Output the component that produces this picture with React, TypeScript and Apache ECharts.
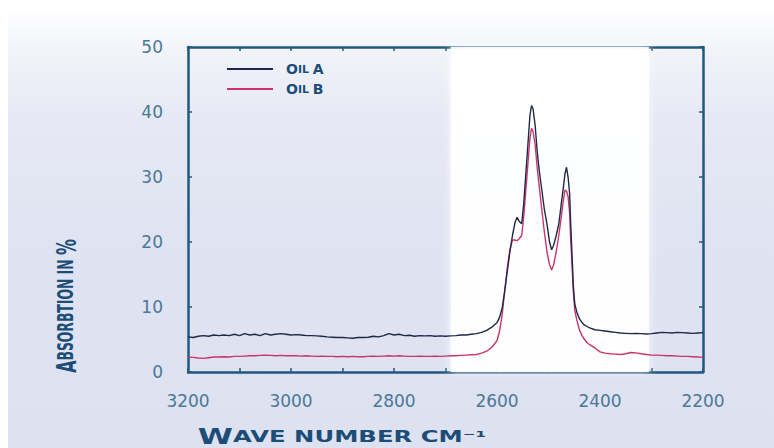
import React, { useEffect, useRef } from 'react';
import * as echarts from 'echarts';

// Wave numbers (cm-1), shared by both spectra
const wavenumbers = [
  3200, 3190, 3180, 3170, 3160, 3150, 3140, 3130, 3120, 3110,
  3100, 3090, 3080, 3070, 3060, 3050, 3040, 3030, 3020, 3010,
  3000, 2990, 2980, 2970, 2960, 2950, 2940, 2930, 2920, 2910,
  2900, 2890, 2880, 2870, 2860, 2850, 2840, 2830, 2820, 2810,
  2800, 2790, 2780, 2770, 2760, 2750, 2740, 2730, 2720, 2710,
  2700, 2690, 2680, 2670, 2660, 2650, 2640,
  2630, 2620, 2610, 2600, 2595, 2590, 2585, 2580, 2575, 2570,
  2565, 2561, 2557, 2552, 2548, 2544, 2540, 2536, 2533, 2530,
  2526, 2522, 2518, 2513, 2508, 2503, 2498, 2494, 2490, 2485,
  2480, 2475, 2471, 2468, 2465, 2462, 2459, 2457, 2454, 2452,
  2449, 2445, 2440, 2435, 2430, 2425, 2420, 2410,
  2400, 2390, 2380, 2370, 2360, 2350, 2340, 2330, 2320, 2310,
  2300, 2290, 2280, 2270, 2260, 2250, 2240, 2230, 2220, 2210, 2200,
];

// Absorption in % – Oil A
const oilA = [
  5.4, 5.3, 5.5, 5.6, 5.5, 5.7, 5.6, 5.7, 5.6, 5.8,
  5.6, 5.9, 5.7, 5.8, 5.6, 5.9, 5.7, 5.8, 5.9, 5.8,
  5.7, 5.75, 5.7, 5.6, 5.6, 5.55, 5.5, 5.4, 5.35, 5.3,
  5.3, 5.25, 5.2, 5.3, 5.3, 5.35, 5.5, 5.4, 5.6, 5.9,
  5.7, 5.8, 5.6, 5.65, 5.5, 5.6, 5.55, 5.6, 5.5, 5.55,
  5.5, 5.55, 5.6, 5.7, 5.7, 5.8, 5.9,
  6.1, 6.4, 6.9, 7.6, 8.4, 9.8, 12.5, 15.5, 18.5, 21.0,
  23.0, 23.8, 23.2, 22.8, 26.0, 30.5, 35.0, 39.5, 41.0, 40.5,
  38.0, 34.0, 31.0, 28.0, 25.0, 22.8, 20.0, 18.8, 19.5, 21.0,
  22.8, 26.0, 28.5, 30.5, 31.5, 30.0, 27.5, 23.0, 17.5, 13.5,
  10.5, 9.2, 8.2, 7.6, 7.2, 7.0, 6.8, 6.5,
  6.4, 6.3, 6.2, 6.1, 6.0, 5.95, 5.9, 5.95, 5.9, 5.85,
  5.9, 6.0, 6.1, 6.05, 6.0, 6.1, 6.05, 6.0, 5.95, 6.0, 6.05,
];

// Absorption in % – Oil B
const oilB = [
  2.3, 2.25, 2.15, 2.1, 2.2, 2.3, 2.3, 2.35, 2.3, 2.4,
  2.4, 2.45, 2.5, 2.5, 2.55, 2.6, 2.55, 2.5, 2.55, 2.5,
  2.5, 2.5, 2.45, 2.5, 2.45, 2.4, 2.45, 2.4, 2.4, 2.35,
  2.4, 2.35, 2.4, 2.35, 2.35, 2.4, 2.45, 2.4, 2.45, 2.5,
  2.45, 2.5, 2.45, 2.4, 2.4, 2.45, 2.4, 2.4, 2.45, 2.4,
  2.45, 2.5, 2.5, 2.55, 2.6, 2.65, 2.7,
  2.9, 3.2, 3.8, 4.8, 6.3, 8.8, 12.5, 16.0, 18.8, 20.3,
  20.3, 20.2, 20.5, 21.0, 24.0, 28.0, 32.0, 36.0, 37.5, 37.0,
  35.0, 31.5, 28.5, 25.0, 21.5, 18.5, 16.5, 15.7, 16.5, 18.5,
  21.0, 24.0, 26.5, 28.0, 27.8, 27.0, 24.5, 20.5, 16.0, 12.5,
  9.5, 8.0, 6.5, 5.6, 5.0, 4.5, 4.2, 3.7,
  3.1, 2.9, 2.8, 2.75, 2.7, 2.8, 3.0, 2.95, 2.8, 2.7,
  2.6, 2.6, 2.55, 2.5, 2.5, 2.45, 2.4, 2.4, 2.35, 2.3, 2.25,
];

const seriesNames = ['Oil A', 'Oil B'];
const seriesColors = ['#1e2848', '#c9346c'];
const xLabelStep = 200;
const highlightBand = [2690, 2305];

const AXIS = '#22587e';
const LABEL = '#4a7898';
const TITLE = '#1b4d78';

function smallCaps(name: string): string {
  return name
    .split(' ')
    .map((w) => {
      const up = w.toUpperCase();
      if (up.length === 1) return `{b|${up}}`;
      return `{b|${up[0]}}{s|${up.slice(1)}}`;
    })
    .join('{s| }');
}

export default function App() {
  const ref = useRef<HTMLDivElement>(null);

  useEffect(() => {
    const chart = echarts.init(ref.current!, null, { renderer: 'svg' });

    const xCommon = {
      type: 'value' as const,
      min: 2200,
      max: 3200,
      interval: 100,
      inverse: true,
      splitLine: { show: false },
      axisLine: { show: true, onZero: false, lineStyle: { color: AXIS, width: 2.5 } },
      axisTick: { show: true, inside: true, length: 4, lineStyle: { color: AXIS, width: 1.5 } },
    };
    const yCommon = {
      type: 'value' as const,
      min: 0,
      max: 50,
      interval: 10,
      splitLine: { show: false },
      axisLine: { show: true, onZero: false, lineStyle: { color: AXIS, width: 2.5 } },
      axisTick: { show: true, inside: true, length: 4, lineStyle: { color: AXIS, width: 1.5 } },
    };

    const series: any[] = [oilA, oilB].map((vals, i) => ({
      name: seriesNames[i],
      type: 'line',
      xAxisIndex: 0,
      yAxisIndex: 0,
      data: wavenumbers.map((w, j) => [w, vals[j]]),
      symbol: 'none',
      smooth: false,
      z: 3 + (1 - i),
      lineStyle: { color: seriesColors[i], width: 1.4 },
      itemStyle: { color: seriesColors[i] },
    }));
    series[0].markArea = {
      silent: true,
      z: 1,
      itemStyle: {
        color: 'rgba(255,255,255,0.9)',
        shadowBlur: 8,
        shadowColor: 'rgba(255,255,255,0.9)',
      },
      data: [[{ xAxis: highlightBand[0] }, { xAxis: highlightBand[1] }]],
    };

    chart.setOption({
      animation: false,
      backgroundColor: 'transparent',
      grid: { left: 180, top: 39, right: 71, bottom: 76, containLabel: false },
      legend: {
        orient: 'vertical',
        left: 214,
        top: 49,
        itemWidth: 46,
        itemHeight: 14,
        itemGap: 6,
        icon: 'path://M0,0 L46,0 L46,2 L0,2 Z',
        data: seriesNames,
        formatter: (name: string) => smallCaps(name),
        textStyle: {
          color: TITLE,
          fontFamily: 'DejaVu Sans',
          fontWeight: 'bold',
          padding: [0, 0, 0, 8],
          rich: {
            b: { fontSize: 14, fontWeight: 'bold', fontFamily: 'DejaVu Sans', color: TITLE, lineHeight: 14 },
            s: { fontSize: 11, fontWeight: 'bold', fontFamily: 'DejaVu Sans', color: TITLE, lineHeight: 14 },
          },
        },
      },
      xAxis: [
        {
          ...xCommon,
          position: 'bottom',
          axisLabel: {
            show: true,
            margin: 20,
            color: LABEL,
            fontSize: 17,
            fontFamily: 'DejaVu Sans',
            showMinLabel: true,
            showMaxLabel: true,
            formatter: (v: number) => (v % xLabelStep === 0 ? String(v) : ''),
          },
        },
        { ...xCommon, position: 'top', axisLabel: { show: false } },
      ],
      yAxis: [
        {
          ...yCommon,
          position: 'left',
          axisLabel: {
            show: true,
            margin: 25,
            color: LABEL,
            fontSize: 17,
            fontFamily: 'DejaVu Sans',
          },
        },
        { ...yCommon, position: 'right', axisLabel: { show: false } },
      ],
      graphic: [
        {
          type: 'text',
          x: 58,
          y: 298,
          rotation: Math.PI / 2,
          scaleX: 0.59,
          silent: true,
          style: {
            text: '{b|A}{s|BSORBTION IN }{b|%}',
            align: 'center',
            verticalAlign: 'middle',
            fill: TITLE,
            rich: {
              b: { fontSize: 27, fontWeight: 'bold', fontFamily: 'DejaVu Sans', fill: TITLE, lineHeight: 27 },
              s: { fontSize: 21, fontWeight: 'bold', fontFamily: 'DejaVu Sans', fill: TITLE, lineHeight: 27 },
            },
          },
        },
        {
          type: 'text',
          x: 334,
          y: 429,
          scaleX: 1.52,
          silent: true,
          style: {
            text: '{b|W}{s|AVE NUMBER CM⁻¹}',
            align: 'center',
            verticalAlign: 'middle',
            fill: TITLE,
            rich: {
              b: { fontSize: 21, fontWeight: 'bold', fontFamily: 'DejaVu Sans', fill: TITLE, lineHeight: 21 },
              s: { fontSize: 16, fontWeight: 'bold', fontFamily: 'DejaVu Sans', fill: TITLE, lineHeight: 21 },
            },
          },
        },
      ],
      series,
    });

    return () => chart.dispose();
  }, []);

  return (
    <div
      ref={ref}
      style={{
        position: 'fixed',
        left: 8,
        top: 8,
        width: 766,
        height: 440,
        background:
          'linear-gradient(to bottom, #ffffff 0%, #f1f3f9 10%, #e6e9f4 25%, #e0e4f2 50%, #dde1f0 100%)',
      }}
    />
  );
}
